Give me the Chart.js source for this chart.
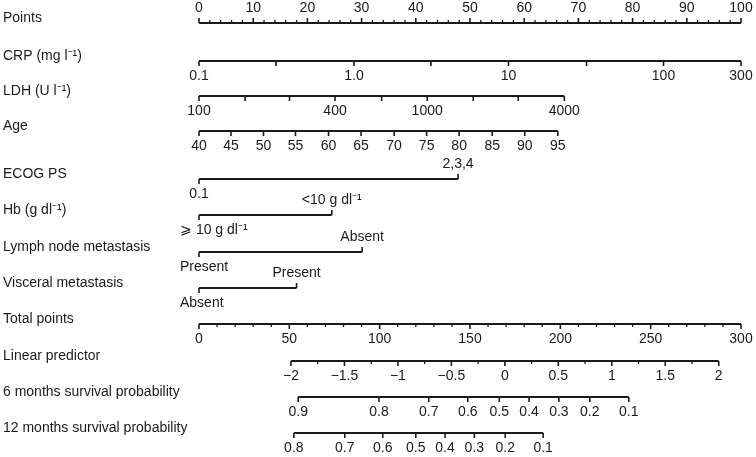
<!DOCTYPE html>
<html>
<head>
<meta charset="utf-8">
<script src="https://cdn.jsdelivr.net/npm/chart.js@4"></script>
<style>
  html, body { margin: 0; padding: 0; background: #fff; }
</style>
</head>
<body>
<canvas id="myChart" width="756" height="457"></canvas>
<script>
// row titles (left column)
const rowTitles = ['Points', 'CRP (mg l⁻¹)', 'LDH (U l⁻¹)', 'Age', 'ECOG PS', 'Hb (g dl⁻¹)',
  'Lymph node metastasis', 'Visceral metastasis', 'Total points', 'Linear predictor',
  '6 months survival probability', '12 months survival probability'];

// tick labels and their positions on the points scale (0-100)
const pointsTicks = [0, 10, 20, 30, 40, 50, 60, 70, 80, 90, 100];
const crpLabels = ['0.1', '', '1.0', '', '10', '', '100', '300'];
const crpPos = [0, 14.2, 28.6, 42.8, 57.1, 71.5, 85.7, 100];
const ldhLabels = ['100', '', '', '400', '', '1000', '', '', '4000'];
const ldhPos = [0, 8.5, 16.7, 25.1, 33.7, 42.1, 50.6, 58.9, 67.4];
const ageLabels = ['40', '45', '50', '55', '60', '65', '70', '75', '80', '85', '90', '95'];
const agePos = [0, 5.9, 11.9, 17.8, 23.9, 29.9, 36.0, 42.0, 48.0, 54.1, 60.1, 66.2];
const ecogLabels = ['0.1', '2,3,4'];
const ecogPos = [0, 47.8];
const hbLabels = ['⩾ 10 g dl⁻¹', '<10 g dl⁻¹'];
const hbPos = [0, 24.5];
const lymphLabels = ['Present', 'Absent'];
const lymphPos = [0, 30.1];
const visceralLabels = ['Absent', 'Present'];
const visceralPos = [0, 18.0];
const totalTicks = [0, 50, 100, 150, 200, 250, 300];
const lpTicks = [-2, -1.5, -1, -0.5, 0, 0.5, 1, 1.5, 2];
const surv6Labels = ['0.9', '0.8', '0.7', '0.6', '0.5', '0.4', '0.3', '0.2', '0.1'];
const surv6Pos = [18.3, 33.2, 42.4, 49.6, 55.4, 60.9, 66.4, 72.1, 79.3];
const surv12Labels = ['0.8', '0.7', '0.6', '0.5', '0.4', '0.3', '0.2', '0.1'];
const surv12Pos = [17.5, 26.9, 33.9, 40.0, 45.4, 50.8, 56.5, 63.5];

// total points and linear predictor mapped onto the points scale
const totalToPts = v => v / 3;
const lpToPts = v => 16.97 + (v + 2) * 19.73;

// layout: vertical pixel of each row's axis line
const rowY = [23, 61, 96, 131, 179, 215, 252, 288, 324, 361, 397, 433];

function minors(from, to, step, skip) {
  const out = [];
  for (let v = from; v <= to + 1e-9; v += step) {
    if (Math.abs(v / skip - Math.round(v / skip)) > 1e-6) out.push(v);
  }
  return out;
}

const rows = [
  { pos: pointsTicks, labels: pointsTicks.map(String), minor: minors(0, 100, 2, 10), side: 'up' },
  { pos: crpPos, labels: crpLabels, minor: [], side: 'down' },
  { pos: ldhPos, labels: ldhLabels, minor: [], side: 'down' },
  { pos: agePos, labels: ageLabels, minor: [], side: 'down' },
  { pos: ecogPos, labels: ecogLabels, minor: [], side: 'factor' },
  { pos: hbPos, labels: hbLabels, minor: [], side: 'factor' },
  { pos: lymphPos, labels: lymphLabels, minor: [], side: 'factor' },
  { pos: visceralPos, labels: visceralLabels, minor: [], side: 'factor' },
  { pos: totalTicks.map(totalToPts), labels: totalTicks.map(String),
    minor: minors(0, 300, 10, 50).map(totalToPts), side: 'down' },
  { pos: lpTicks.map(lpToPts), labels: lpTicks.map(v => String(v).replace('-', '\u2212')),
    minor: minors(-2, 2, 0.25, 0.5).map(lpToPts), side: 'down' },
  { pos: surv6Pos, labels: surv6Labels, minor: [], side: 'down' },
  { pos: surv12Pos, labels: surv12Labels, minor: [], side: 'down' }
];

const ink = '#1a1a1a';
const font = '14px "Liberation Sans", Arial, sans-serif';

const nomogram = {
  id: 'nomogram',
  afterDatasetsDraw(chart) {
    const c = chart.ctx;
    const xs = chart.scales.x, ys = chart.scales.y;
    c.save();
    c.font = font;
    c.fillStyle = ink;
    c.strokeStyle = ink;
    c.textBaseline = 'middle';
    rows.forEach((row, i) => {
      const y = ys.getPixelForValue(rowY[i]);
      c.textAlign = 'left';
      c.fillText(rowTitles[i], 3, y - 5);
      c.lineWidth = 1.3;
      row.minor.forEach(p => {
        const x = xs.getPixelForValue(p);
        c.beginPath();
        c.moveTo(x, y);
        c.lineTo(x, row.side === 'up' ? y - 3 : y + 3);
        c.stroke();
      });
      c.lineWidth = 1.6;
      row.pos.forEach((p, k) => {
        const x = xs.getPixelForValue(p);
        let dir = row.side === 'up' ? -1 : 1;
        if (row.side === 'factor') dir = k === 0 ? 1 : -1;
        c.beginPath();
        c.moveTo(x, y);
        c.lineTo(x, y + dir * 5);
        c.stroke();
        const txt = row.labels[k];
        if (!txt) return;
        const w = c.measureText(txt).width;
        let cx = Math.max(x, 180 + w / 2);
        cx = Math.min(cx, 756 - w / 2);
        c.textAlign = 'center';
        c.fillText(txt, cx, y + dir * 15);
      });
    });
    c.restore();
  }
};

const ctx = document.getElementById('myChart');

new Chart(ctx, {
  type: 'line',
  data: {
    datasets: rows.map((row, i) => ({
      data: [{ x: Math.min(...row.pos), y: rowY[i] }, { x: Math.max(...row.pos), y: rowY[i] }],
      borderColor: ink,
      borderWidth: 1.8,
      pointRadius: 0,
      clip: false
    }))
  },
  options: {
    responsive: false,
    animation: false,
    layout: { padding: { left: 199, right: 15, top: 0, bottom: 0 } },
    plugins: { legend: { display: false }, tooltip: { enabled: false } },
    scales: {
      x: { type: 'linear', min: 0, max: 100, display: false },
      y: { type: 'linear', min: 0, max: 457, reverse: true, display: false }
    }
  },
  plugins: [nomogram]
});
</script>
</body>
</html>
